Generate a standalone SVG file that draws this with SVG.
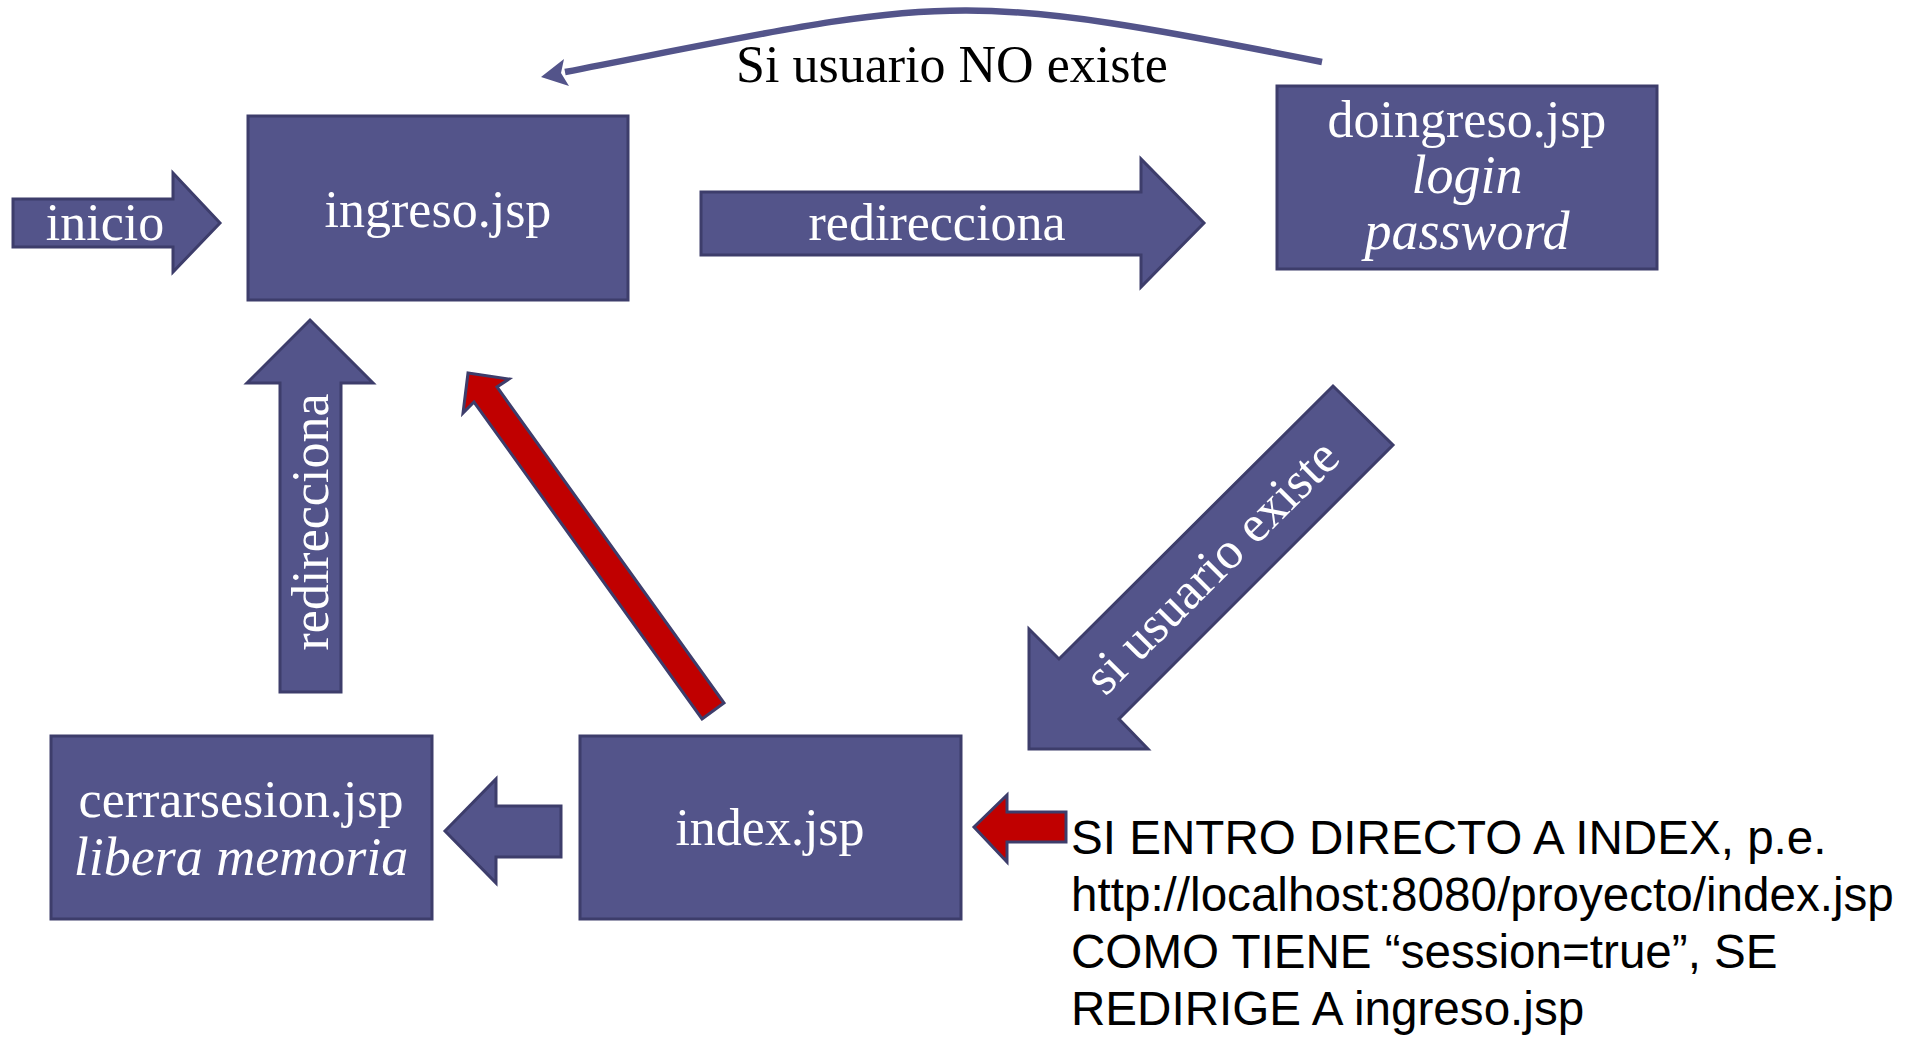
<svg xmlns="http://www.w3.org/2000/svg" width="1907" height="1039" viewBox="0 0 1907 1039">
<style>
.box{fill:#53548A;stroke:#3D3D6B;stroke-width:3}
.blk{fill:#53548A;stroke:#3D3D6B;stroke-width:3;stroke-linejoin:miter}
.red{fill:#C00000;stroke:#3D3D6B;stroke-width:3;stroke-linejoin:miter}
.w{fill:#FFFFFF;font-family:"Liberation Serif","Times New Roman",serif;font-size:52px;text-anchor:middle}
.it{font-style:italic;font-size:54px}
.k{fill:#000000;font-family:"Liberation Serif","Times New Roman",serif;font-size:52px;text-anchor:middle}
.note{fill:#000000;font-family:"Liberation Sans",Arial,sans-serif;font-size:47.6px}
</style>
<rect width="1907" height="1039" fill="#FFFFFF"/>
<g id="connectors">
  <g id="c-inicio">
    <polygon class="blk" points="13,199 173,199 173,173 220,223 173,272 173,247 13,247"/>
    <text class="w" x="105" y="240">inicio</text>
  </g>
  <g id="c-redirecciona-h">
    <polygon class="blk" points="701,192 1141,192 1141,159 1204,223 1141,287 1141,255 701,255"/>
    <text class="w" x="937" y="240">redirecciona</text>
  </g>
  <g id="c-no-existe">
    <path d="M1322,62 C942,-14 947,-2 565,72" fill="none" stroke="#53548A" stroke-width="6.5"/>
    <polygon points="541,77 564,59 561,73 569,86" fill="#53548A"/>
    <text class="k" x="952" y="82">Si usuario NO existe</text>
  </g>
  <g id="c-existe">
    <polygon class="blk" points="1333,386 1393,445 1119,719 1148,749 1029,749 1029,629 1059,659"/>
    <text class="w" transform="translate(1213,568) rotate(-45)" x="0" y="15">si usuario existe</text>
  </g>
  <g id="c-redirecciona-v">
    <polygon class="blk" points="310,320 373,383 341,383 341,692 280,692 280,383 247,383"/>
    <text class="w" transform="translate(328,522) rotate(-90)" x="0" y="0">redirecciona</text>
  </g>
  <g id="c-red-up">
    <polygon class="red" points="702,719 724,703 497,387 509,379 468,373 463,413 474,402"/>
  </g>
  <g id="c-cerrar">
    <polygon class="blk" points="445,831 496,779 496,806 561,806 561,857 496,857 496,883"/>
  </g>
  <g id="c-red-left">
    <polygon class="red" points="974,827 1007,795 1007,812 1066,812 1066,842 1007,842 1007,862"/>
  </g>
</g>
<g id="ingreso">
  <rect class="box" x="248" y="116" width="380" height="184"/>
  <text class="w" x="438" y="227">ingreso.jsp</text>
</g>
<g id="doingreso">
  <rect class="box" x="1277" y="86" width="380" height="183"/>
  <text class="w" x="1467" y="137">doingreso.jsp</text>
  <text class="w it" x="1467" y="193">login</text>
  <text class="w it" x="1467" y="249">password</text>
</g>
<g id="cerrarsesion">
  <rect class="box" x="51" y="736" width="381" height="183"/>
  <text class="w" x="241" y="817">cerrarsesion.jsp</text>
  <text class="w it" x="241" y="875">libera memoria</text>
</g>
<g id="index">
  <rect class="box" x="580" y="736" width="381" height="183"/>
  <text class="w" x="770" y="845">index.jsp</text>
</g>
<g id="nota">
  <text class="note" x="1071" y="854">SI ENTRO DIRECTO A INDEX, p.e.</text>
  <text class="note" x="1071" y="911">http://localhost:8080/proyecto/index.jsp</text>
  <text class="note" x="1071" y="968">COMO TIENE “session=true”, SE</text>
  <text class="note" x="1071" y="1025">REDIRIGE A ingreso.jsp</text>
</g>
</svg>
